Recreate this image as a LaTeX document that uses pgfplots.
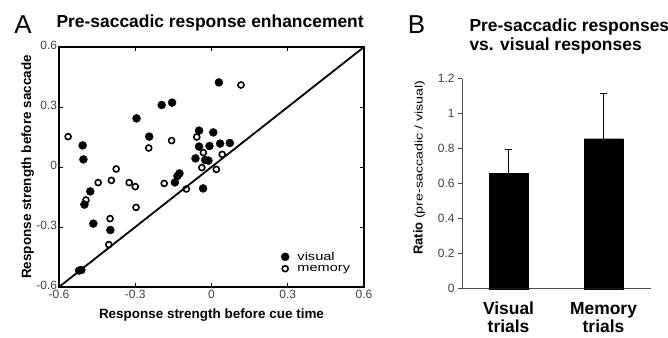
\documentclass[border=0pt]{standalone}
\usepackage{pgfplots}
\pgfplotsset{compat=1.18}
\usepackage{fontspec}
\setmainfont{Liberation Sans}
\begin{document}
\begin{tikzpicture}[x=1bp,y=1bp]
\useasboundingbox (0,0) rectangle (668,337);
% ---------------- Panel A ----------------
\begin{axis}[
  at={(59bp,50bp)}, anchor=south west, scale only axis,
  width=305bp, height=240bp,
  xmin=-0.6, xmax=0.6, ymin=-0.6, ymax=0.6,
  xtick={-0.6,-0.3,0,0.3,0.6}, ytick={-0.6,-0.3,0,0.3,0.6},
  tick align=inside, major tick length=4bp,
  axis line style={line width=1.6bp},
  tick style={black, line width=0.6bp},
  /pgf/number format/assume math mode=true,
  ticklabel style={font=\fontsize{12}{12}\selectfont, text=black!75, inner sep=0.8bp},
  xticklabel style={yshift=-2bp},
  yticklabel style={xshift=-1bp, yshift=2bp},
  xlabel={Response strength before cue time},
  ylabel={Response strength before saccade},
  xlabel style={font=\bfseries\fontsize{13.5}{15}\selectfont, yshift=-6bp},
  ylabel style={font=\bfseries\fontsize{13.5}{15}\selectfont, yshift=-2bp},
  legend style={at={(0.718,0.05)}, anchor=south west, draw=none, fill=none,
    font=\fontsize{11.5}{12}\selectfont, row sep=2.5bp,
    nodes={inner sep=0.3bp},
    /tikz/every odd column/.append style={column sep=8bp}},
  legend cell align=left,
  clip=false,
]
\addplot[black, line width=1.8bp, forget plot] coordinates {(-0.6,-0.6) (0.6,0.6)};
\addplot[only marks, mark=*, mark size=4bp, black, mark options={fill=black}] coordinates {
(0.029,0.423) (-0.196,0.310) (-0.155,0.322) (-0.295,0.243) (-0.245,0.152)
(-0.507,0.108) (-0.504,0.038) (-0.049,0.182) (0.007,0.173) (-0.049,0.102)
(-0.008,0.105) (0.034,0.117) (0.072,0.120) (-0.063,0.043) (-0.025,0.035)
(-0.012,0.032) (-0.126,-0.032) (-0.134,-0.045) (-0.144,-0.077) (-0.033,-0.107)
(-0.477,-0.122) (-0.500,-0.188) (-0.465,-0.283) (-0.398,-0.315)
(-0.521,-0.518) (-0.512,-0.515)
};
\addlegendentry{\scalebox{1.27}[1]{visual}}
\addplot[only marks, mark=o, mark size=3bp, black, mark options={line width=1.6bp, fill=white}] coordinates {
(0.116,0.410) (-0.564,0.152) (-0.157,0.132) (-0.247,0.095) (-0.058,0.150)
(-0.032,0.072) (0.042,0.063) (-0.038,-0.003) (0.019,-0.012) (-0.375,-0.010)
(-0.446,-0.078) (-0.394,-0.067) (-0.324,-0.078) (-0.300,-0.098) (-0.186,-0.082)
(-0.099,-0.110) (-0.494,-0.165) (-0.297,-0.202) (-0.399,-0.258) (-0.404,-0.388)
};
\addlegendentry{\scalebox{1.27}[1]{memory}}
\end{axis}
\node[font=\fontsize{26}{26}\selectfont] at (23,312) {A};
\node[anchor=base west, font=\bfseries\fontsize{17.5}{18}\selectfont] at (53,310) {Pre-saccadic response enhancement};
% ---------------- Panel B ----------------
\begin{axis}[
  at={(462bp,48.3bp)}, anchor=south west, scale only axis,
  width=189bp, height=210bp,
  xmin=0.51, xmax=2.5, ymin=0, ymax=1.2,
  axis x line=bottom, axis y line=left,
  axis line style={-, black!70, line width=1bp},
  ytick={0,0.2,0.4,0.6,0.8,1,1.2},
  xtick={1,2}, xticklabels={Visual\\trials, Memory\\trials},
  x tick style={draw=none},
  y tick style={black!70, line width=0.8bp},
  tick align=outside, major tick length=4bp,
  /pgf/number format/assume math mode=true,
  yticklabel style={font=\fontsize{12}{12}\selectfont, text=black!75, /pgf/number format/fixed},
  xticklabel style={font=\bfseries\fontsize{17.5}{18}\selectfont, align=center,
    inner sep=0bp, anchor=base, yshift=-40bp},
  clip=false,
]
\addplot[ybar, bar width=39bp, fill=black, draw=black,
  error bars/.cd, y dir=plus, y explicit,
  error bar style={line width=1bp, black},
  error mark options={rotate=90, mark size=3.5bp, line width=1bp, black}]
  coordinates {(1,0.658) +- (0,0.140) (2,0.857) +- (0,0.261)};
\end{axis}
\node[rotate=90] at (419,169.5) {\bfseries\fontsize{13}{14}\selectfont Ratio \mdseries\fontsize{11}{12}\selectfont\scalebox{1.3}[1]{(pre-saccadic / visual)}};
\node[font=\fontsize{26}{26}\selectfont] at (416.5,312) {B};
\node[anchor=north west, align=left, font=\bfseries\fontsize{17.5}{19}\selectfont] at (466,322) {Pre-saccadic responses\\vs. visual responses};
\end{tikzpicture}
\end{document}
